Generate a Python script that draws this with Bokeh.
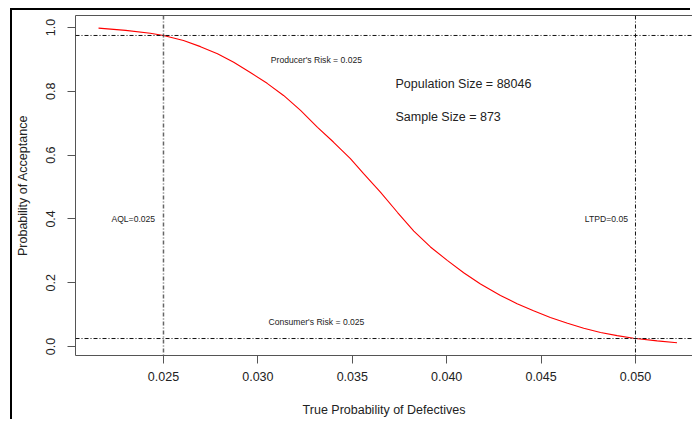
from bokeh.plotting import figure
from bokeh.models import (Range1d, LinearAxis, FixedTicker, Span, Label,
                          NumeralTickFormatter)
from bokeh.embed import file_html
from bokeh.resources import INLINE

# ---- data ----
p_defective = [0.02156, 0.0230, 0.0243, 0.0250, 0.02606, 0.02696, 0.02786,
               0.02872, 0.0296, 0.03049, 0.03136, 0.03226, 0.03316, 0.03400,
               0.0349, 0.0356, 0.03649, 0.0374, 0.03826, 0.03914, 0.04003,
               0.0409, 0.04179, 0.04285, 0.04373, 0.0446, 0.04549, 0.0464,
               0.04726, 0.04815, 0.04903, 0.0499, 0.05115, 0.0522]
p_accept = [0.998, 0.991, 0.982, 0.975, 0.959, 0.940, 0.918,
            0.891, 0.859, 0.825, 0.787, 0.740, 0.687, 0.641,
            0.589, 0.542, 0.484, 0.420, 0.362, 0.312, 0.270,
            0.231, 0.196, 0.160, 0.134, 0.112, 0.091, 0.073,
            0.057, 0.044, 0.034, 0.026, 0.0175, 0.0116]
x_ticks = [0.025, 0.030, 0.035, 0.040, 0.045, 0.050]
y_ticks = [0.0, 0.2, 0.4, 0.6, 0.8, 1.0]
aql = 0.025
ltpd = 0.05
producer_risk = 0.025
consumer_risk = 0.025
population_size = 88046
sample_size = 873

FONT = "Liberation Sans"
AXIS_COL = "#555555"

p = figure(width=680, height=411, output_backend="svg", toolbar_location=None,
           x_range=Range1d(0.02034, 0.05302), y_range=Range1d(-0.0282, 1.0376),
           min_border_left=63, min_border_top=5, min_border_right=0,
           min_border_bottom=66)
# screenshot's black frame on the left and top edges
p.styles = {"margin-left": "12px", "margin-top": "10px",
            "box-shadow": "-2px -2px 0px 0px #000000"}
p.outline_line_color = None
p.xgrid.visible = False
p.ygrid.visible = False
p.background_fill_color = "white"
p.border_fill_color = "white"

# curve
p.line(p_defective, p_accept, line_color="#ff0000", line_width=1.1)

# axes
for ax, ticks, fmt in ((p.xaxis[0], x_ticks, "0.000"), (p.yaxis[0], y_ticks, "0.0")):
    ax.ticker = FixedTicker(ticks=ticks)
    ax.formatter = NumeralTickFormatter(format=fmt)
    ax.major_tick_out = 8
    ax.major_tick_in = 0
    ax.minor_tick_out = 0
    ax.minor_tick_in = 0
    ax.axis_line_color = AXIS_COL
    ax.major_tick_line_color = AXIS_COL
    ax.major_label_text_font = FONT
    ax.major_label_text_font_size = "12.5px"
    ax.major_label_text_color = "#222222"
    ax.axis_label_text_font = FONT
    ax.axis_label_text_font_size = "12.5px"
    ax.axis_label_text_font_style = "normal"
    ax.axis_label_text_color = "#222222"

p.xaxis.axis_label = "True Probability of Defectives"
p.yaxis.axis_label = "Probability of Acceptance"
p.xaxis.major_label_standoff = 8
p.xaxis.axis_label_standoff = 19
p.yaxis.major_label_standoff = 12
p.yaxis.axis_label_standoff = 14
p.yaxis.major_label_orientation = "vertical"

top_axis = LinearAxis(ticker=FixedTicker(ticks=[]), major_tick_out=0,
                      major_tick_in=0, minor_tick_out=0, minor_tick_in=0,
                      major_label_text_font_size="0px", major_label_standoff=0,
                      axis_line_color=AXIS_COL)
p.add_layout(top_axis, "above")

# reference lines
p.add_layout(Span(location=aql, dimension="height", line_color="#666666",
                  line_width=1.5, line_dash="4 2 1 2"))
p.add_layout(Span(location=ltpd, dimension="height", line_color="#111111",
                  line_width=1, line_dash="4 2 1 2"))
p.add_layout(Span(location=1 - producer_risk, dimension="width", line_color="#111111",
                  line_width=1, line_dash="4 2 1 2"))
p.add_layout(Span(location=consumer_risk, dimension="width", line_color="#111111",
                  line_width=1, line_dash="4 2 1 2"))

# annotations
small = dict(text_font=FONT, text_font_size="8.6px", text_color="#222222",
             text_align="center", text_baseline="middle")
p.add_layout(Label(x=0.0331, y=0.897, text=f"Producer's Risk = {producer_risk}", **small))
p.add_layout(Label(x=0.0331, y=0.076, text=f"Consumer's Risk = {consumer_risk}", **small))
p.add_layout(Label(x=0.0234, y=0.40, text=f"AQL={aql}", **small))
p.add_layout(Label(x=0.04846, y=0.40, text=f"LTPD={ltpd}", **small))

big = dict(text_font=FONT, text_font_size="12.5px", text_color="#222222",
           text_align="left", text_baseline="middle")
p.add_layout(Label(x=0.03729, y=0.824, text=f"Population Size = {population_size}", **big))
p.add_layout(Label(x=0.03729, y=0.719, text=f"Sample Size = {sample_size}", **big))

open("out.html", "w").write(file_html(p, INLINE))
